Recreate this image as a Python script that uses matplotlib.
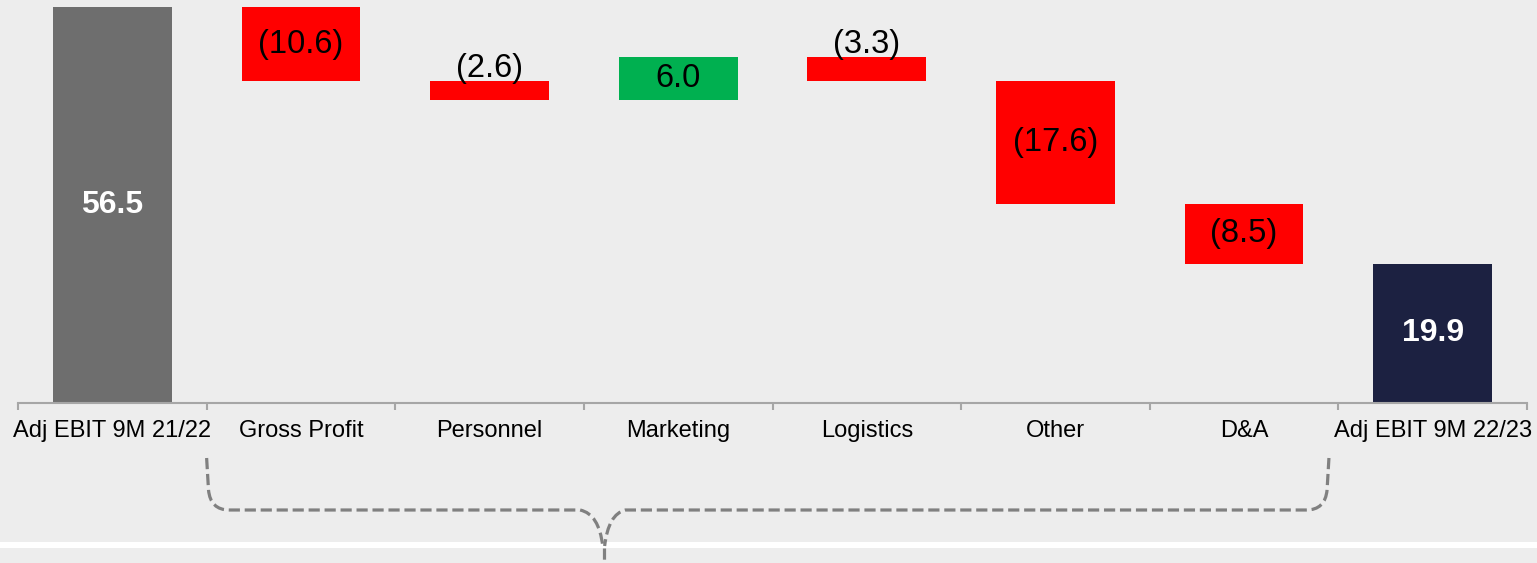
import numpy as np
import matplotlib.pyplot as plt
from matplotlib.path import Path
from matplotlib.patches import PathPatch, Rectangle
import matplotlib.transforms as mtransforms

plt.rcParams['font.family'] = ['Liberation Sans', 'DejaVu Sans']

# dados do gráfico (ponte do EBIT ajustado)
categorias = ['Adj EBIT 9M 21/22', 'Gross Profit', 'Personnel', 'Marketing',
              'Logistics', 'Other', 'D&A', 'Adj EBIT 9M 22/23']
ebit_inicial = 56.5
variacoes = [-10.6, -2.6, 6.0, -3.3, -17.6, -8.5]
ebit_final = 19.9

cor_fundo = '#EDEDED'
cor_inicial = '#6E6E6E'
cor_final = '#1C2141'
cor_neg = '#FF0000'
cor_pos = '#00B050'

fig = plt.figure(figsize=(15.37, 5.63), dpi=100)
fig.patch.set_facecolor(cor_fundo)
ax = fig.add_axes([18 / 1537, 160 / 563, 1509 / 1537, 403 / 563])
ax.set_facecolor(cor_fundo)

largura = 0.63
x = np.arange(len(categorias))

# barra inicial
ax.bar(x[0], ebit_inicial, width=largura, color=cor_inicial)
ax.text(x[0], ebit_inicial / 2, f'{ebit_inicial:.1f}', ha='center', va='center',
        color='white', fontsize=23, fontweight='bold')

# barras de variação
nivel = ebit_inicial
for i, v in enumerate(variacoes, start=1):
    base = nivel + v if v < 0 else nivel
    cor = cor_neg if v < 0 else cor_pos
    ax.bar(x[i], abs(v), bottom=base, width=largura, color=cor)
    rotulo = f'({abs(v):.1f})' if v < 0 else f'{v:.1f}'
    if abs(v) > 4:
        ax.text(x[i], base + abs(v) / 2, rotulo, ha='center', va='center',
                fontsize=23.5, color='black')
    else:
        ax.annotate(rotulo, (x[i], base + abs(v)), xytext=(0, -2),
                    textcoords='offset points', ha='center', va='bottom',
                    fontsize=23.5, color='black')
    nivel += v

# barra final
ax.bar(x[-1], ebit_final, width=largura, color=cor_final)
ax.text(x[-1], ebit_final / 2, f'{ebit_final:.1f}', ha='center', va='center',
        color='white', fontsize=23, fontweight='bold')

ax.set_xlim(-0.5, len(categorias) - 0.5)
ax.set_ylim(0, 57.5)
for lado in ['top', 'right', 'left']:
    ax.spines[lado].set_visible(False)
ax.spines['bottom'].set_color('#A6A6A6')
ax.spines['bottom'].set_linewidth(1.5)
ax.set_yticks([])
ax.set_xticks(x)
ax.set_xticklabels(categorias, fontsize=17)
ax.tick_params(axis='x', which='major', length=0, pad=12)
ax.set_xticks(np.arange(len(categorias) + 1) - 0.5, minor=True)
ax.tick_params(axis='x', which='minor', length=5, width=1.5, color='#A6A6A6',
               direction='out')

# faixa branca perto do rodapé
fig.add_artist(Rectangle((0, 15 / 563), 1, 6 / 563, transform=fig.transFigure,
                         facecolor='white', edgecolor='none'))

# chave tracejada agrupando as variações
trans = mtransforms.blended_transform_factory(ax.transData, fig.transFigure)
def fy(p):
    return 1 - p / 563

esq, dir_, ponta = 0.5, 6.45, 2.6
dx = 0.12
cod_chave = [Path.MOVETO, Path.LINETO, Path.CURVE3, Path.CURVE3, Path.LINETO,
             Path.CURVE3, Path.CURVE3]
lado_esq = Path([(esq, fy(458)), (esq + 0.01, fy(490)), (esq + 0.02, fy(510)),
                 (esq + dx, fy(510)), (ponta - 0.12, fy(510)),
                 (ponta - 0.02, fy(514)), (ponta, fy(546))], cod_chave)
lado_dir = Path([(dir_, fy(458)), (dir_ - 0.01, fy(490)), (dir_ - 0.02, fy(510)),
                 (dir_ - dx, fy(510)), (ponta + 0.12, fy(510)),
                 (ponta + 0.03, fy(514)), (ponta + 0.01, fy(546))], cod_chave)
cauda = Path([(ponta + 0.005, fy(548)), (ponta + 0.005, fy(563))],
             [Path.MOVETO, Path.LINETO])
for caminho in [lado_esq, lado_dir, cauda]:
    fig.add_artist(PathPatch(caminho, transform=trans, fill=False,
                             edgecolor='#808080', linewidth=2.3,
                             linestyle=(0, (3.5, 1.5))))

fig.savefig('out.png', dpi=100, facecolor=cor_fundo)
